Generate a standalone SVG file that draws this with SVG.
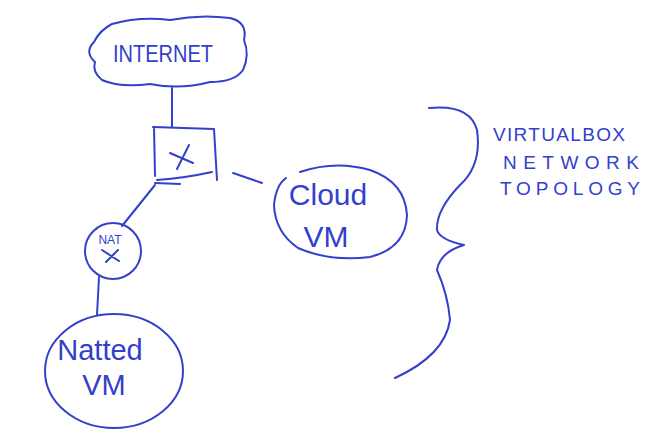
<svg xmlns="http://www.w3.org/2000/svg" width="665" height="444" viewBox="0 0 665 444">
<style>
.s{fill:none;stroke:#3340cc;stroke-width:2;stroke-linecap:round;stroke-linejoin:round}
.t{fill:#3340cc;font-family:"Liberation Sans",Arial,sans-serif}
</style>
<rect width="665" height="444" fill="#fff"/>
<g id="internet">
<path class="s" d="M112,24 Q140,16 170,20 Q200,14 230,18 Q248,22 244,40 Q250,55 243,70 Q235,82 210,82 Q180,90 150,84 Q120,88 102,80 Q92,72 95,62 Q84,52 94,42 Q100,30 112,24 Z"/>
<text class="t" x="113" y="62" font-size="24" textLength="100" lengthAdjust="spacingAndGlyphs">INTERNET</text>
</g>
<g id="switch">
<path class="s" d="M153,127 L214,129 L217,180 M154,127 L155,176 M157,180 Q185,178 212,172 M155,183 L180,184"/>
<path class="s" d="M170,153 L193,163 M189,145 L177,169"/>
</g>
<g id="cloudvm">
<path class="s" d="M300,172 Q335,160 370,170 Q405,182 407,215 Q406,248 370,257 Q330,262 298,248 Q275,232 274,205 Q276,185 286,178"/>
<text class="t" x="328" y="205" font-size="30" text-anchor="middle">Cloud</text>
<text class="t" x="326" y="247" font-size="30" text-anchor="middle">VM</text>
</g>
<g id="nat">
<circle class="s" cx="113" cy="251" r="28"/>
<text class="t" x="110" y="244" font-size="12" text-anchor="middle">NAT</text>
<path class="s" d="M102,250 L119,261 M118,250 L106,262"/>
</g>
<g id="nattedvm">
<ellipse class="s" cx="114" cy="371" rx="69" ry="57"/>
<text class="t" x="100" y="360" font-size="29" text-anchor="middle">Natted</text>
<text class="t" x="104" y="395" font-size="29" text-anchor="middle">VM</text>
</g>
<g id="connectors">
<path class="s" d="M172,88 L172,127"/>
<path class="s" d="M233,173 L262,183"/>
<path class="s" d="M155,185 L122,226"/>
<path class="s" d="M99,277 L97,315"/>
<path class="s" d="M429,108 Q470,104 477,130 Q482,165 460,185 Q436,210 437,230 Q440,240 464,245 Q440,252 437,270 Q448,295 450,320 Q445,355 395,378"/>
</g>
<g id="title">
<text class="t" x="493" y="141" font-size="19" textLength="132" lengthAdjust="spacing">VIRTUALBOX</text>
<text class="t" x="503" y="169" font-size="19" textLength="136" lengthAdjust="spacing">NETWORK</text>
<text class="t" x="500" y="195" font-size="19" textLength="140" lengthAdjust="spacing">TOPOLOGY</text>
</g>
</svg>
